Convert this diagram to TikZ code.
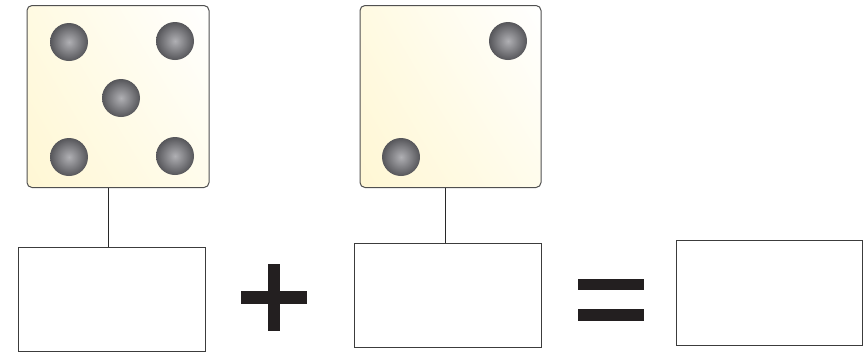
\documentclass[tikz,border=0pt]{standalone}
\usetikzlibrary{shadings}
\definecolor{dieUL}{RGB}{255,250,226}
\definecolor{dieLL}{RGB}{255,247,212}
\definecolor{dieLR}{RGB}{255,252,236}
\definecolor{dieEdge}{RGB}{80,80,80}
\definecolor{pipIn}{RGB}{176,176,180}
\definecolor{pipOut}{RGB}{86,86,90}
\definecolor{boxEdge}{RGB}{60,60,60}
\definecolor{connCol}{RGB}{40,40,40}
\definecolor{symCol}{RGB}{35,31,32}
\begin{document}
\begin{tikzpicture}[x=1pt,y=-1pt,
  diebox/.style={draw=dieEdge, line width=1pt, rounded corners=5pt,
    minimum width=182pt, minimum height=182pt, inner sep=0pt,
    upper left=dieUL, lower left=dieLL, lower right=dieLR, upper right=white},
  pip/.style={circle, minimum size=38pt, inner sep=0pt,
    inner color=pipIn, outer color=pipOut},
  ansbox/.style={draw=boxEdge, line width=0.9pt, inner sep=0pt},
  conn/.style={draw=connCol, line width=0.9pt},
  sym/.style={fill=symCol}
]
\useasboundingbox (0,0) rectangle (865,354);
% dice
\node[diebox] (die1) at (118,96.5) {};
\node[diebox, minimum width=181pt] (die2) at (450.5,96.5) {};
% pips
\node[pip] (p1) at (69,42) {};
\node[pip] (p2) at (175,41) {};
\node[pip] (p3) at (121,98) {};
\node[pip] (p4) at (69,157) {};
\node[pip] (p5) at (175,156) {};
\node[pip] (q1) at (508,41) {};
\node[pip] (q2) at (401,157) {};
% answer boxes
\node[ansbox, minimum width=187pt, minimum height=104pt] (box1) at (111.5,299) {};
\node[ansbox, minimum width=187pt, minimum height=104pt] (box2) at (447.5,295) {};
\node[ansbox, minimum width=186pt, minimum height=105pt] (box3) at (769,292.5) {};
% connectors
\coordinate (c1) at (108,0);
\coordinate (c2) at (445,0);
\draw[conn] (die1.south -| c1) -- (box1.north -| c1);
\draw[conn] (die2.south -| c2) -- (box2.north -| c2);
% plus
\fill[sym] (267.5,264) rectangle (279.5,331);
\fill[sym] (241,291) rectangle (307,304);
% equals
\fill[sym] (578,279) rectangle (644,290);
\fill[sym] (578,309) rectangle (644,321);
\end{tikzpicture}
\end{document}
